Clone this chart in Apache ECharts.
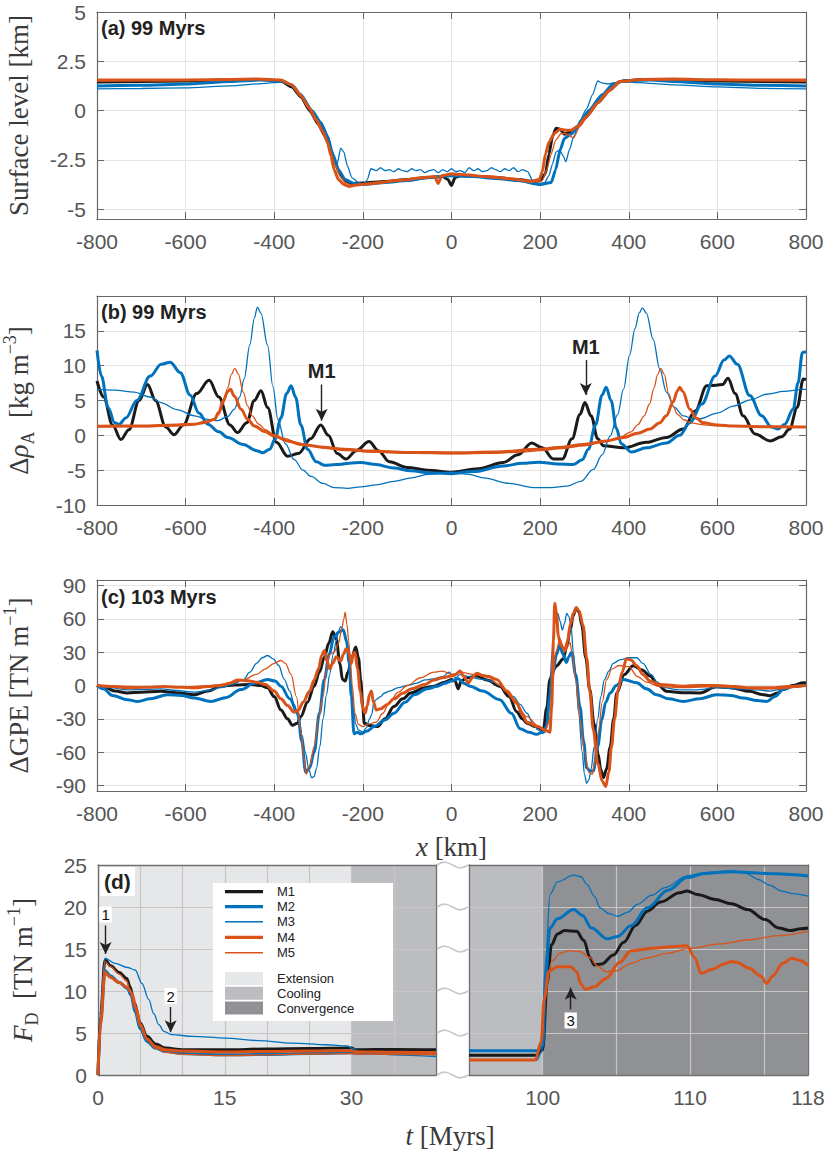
<!DOCTYPE html>
<html><head><meta charset="utf-8">
<script src="https://cdn.jsdelivr.net/npm/echarts@6/dist/echarts.min.js"></script>
<style>html,body{margin:0;padding:0;background:#fff}#c{width:825px;height:1154px}</style>
</head><body><div id="c"></div>
<script>
// ---------- DATA ----------
const xTicksKm = [-800,-600,-400,-200,0,200,400,600,800];
const surfTicks = [-5,-2.5,0,2.5,5];
const gpeTicks = [-90,-60,-30,0,30,60,90];
const fdLeftLabels = [0,15,30];
const fdRightLabels = [100,110,118];
const modelNames = ['M1','M2','M3','M4','M5'];
const phaseNames = ['Extension','Cooling','Convergence'];

// (a) surface level [km]
const surfM1 = [[-800,1.45],[-700,1.47],[-600,1.5],[-500,1.56],[-430,1.58],[-385,1.5],[-360,1.2],[-340,0.7],[-320,0.0],[-300,-0.7],[-285,-1.3],[-272,-2.0],[-262,-2.7],[-252,-3.2],[-240,-3.55],[-225,-3.7],[-200,-3.68],[-150,-3.6],[-100,-3.5],[-50,-3.4],[-20,-3.35],[-8,-3.5],[0,-3.8],[8,-3.4],[20,-3.3],[60,-3.35],[100,-3.4],[150,-3.5],[185,-3.6],[200,-3.55],[212,-3.2],[220,-2.2],[228,-1.3],[236,-0.9],[245,-0.95],[255,-1.2],[265,-1.1],[280,-0.9],[300,-0.4],[330,0.4],[360,1.1],[380,1.48],[430,1.58],[500,1.56],[600,1.5],[700,1.47],[800,1.45]];
const surfM2 = [[-800,1.25],[-700,1.28],[-600,1.35],[-500,1.48],[-430,1.55],[-385,1.52],[-360,1.3],[-340,0.8],[-315,0.0],[-295,-0.6],[-280,-1.3],[-268,-2.2],[-255,-3.0],[-240,-3.5],[-220,-3.7],[-200,-3.75],[-150,-3.65],[-100,-3.55],[-50,-3.4],[0,-3.3],[50,-3.35],[100,-3.45],[150,-3.55],[200,-3.75],[225,-3.65],[235,-3.0],[245,-2.0],[255,-1.4],[270,-1.2],[285,-0.8],[310,0.0],[340,0.8],[365,1.35],[390,1.52],[450,1.55],[500,1.48],[600,1.35],[700,1.28],[800,1.25]];
const surfM3 = [[-800,1.1],[-700,1.12],[-600,1.15],[-500,1.25],[-420,1.38],[-385,1.45],[-365,1.35],[-345,0.9],[-325,0.3],[-305,-0.3],[-290,-0.8],[-278,-1.3],[-268,-2.2],[-258,-2.7],[-250,-1.9],[-243,-2.1],[-235,-2.8],[-225,-3.4],[-210,-3.65],[-198,-3.75],[-190,-3.5],[-182,-2.95],[-170,-3.05],[-160,-2.9],[-150,-3.05],[-140,-3.0],[-130,-3.1],[-120,-2.95],[-110,-3.05],[-100,-3.1],[-90,-2.95],[-80,-3.05],[-70,-3.0],[-60,-3.15],[-50,-3.05],[-40,-3.0],[-30,-3.15],[-20,-3.0],[-10,-3.1],[0,-2.95],[10,-3.1],[20,-3.05],[30,-3.15],[40,-2.9],[50,-3.05],[60,-2.95],[70,-3.1],[80,-3.05],[90,-2.9],[100,-3.0],[110,-3.1],[120,-2.95],[130,-3.05],[140,-2.9],[150,-3.1],[160,-3.0],[172,-3.1],[182,-3.5],[195,-3.7],[210,-3.65],[220,-3.3],[228,-2.7],[236,-2.1],[244,-2.0],[252,-2.3],[258,-2.6],[266,-2.0],[276,-1.3],[290,-0.5],[305,0.1],[318,0.8],[330,1.5],[340,1.4],[352,1.35],[370,1.42],[400,1.45],[450,1.38],[500,1.3],[600,1.2],[700,1.13],[800,1.1]];
const surfM4 = [[-800,1.55],[-700,1.55],[-600,1.55],[-500,1.58],[-440,1.6],[-385,1.55],[-360,1.3],[-340,0.75],[-320,0.1],[-305,-0.5],[-290,-1.1],[-280,-1.6],[-272,-2.3],[-265,-3.0],[-255,-3.5],[-243,-3.75],[-232,-3.85],[-215,-3.78],[-180,-3.7],[-120,-3.55],[-60,-3.4],[-38,-3.35],[-30,-3.7],[-22,-3.3],[-10,-3.25],[0,-3.2],[30,-3.25],[80,-3.35],[130,-3.45],[180,-3.6],[198,-3.5],[205,-3.1],[212,-2.2],[220,-1.6],[232,-1.15],[245,-0.95],[258,-1.0],[270,-1.0],[285,-0.8],[305,-0.3],[330,0.4],[355,1.0],[380,1.48],[430,1.58],[500,1.6],[600,1.56],[700,1.55],[800,1.55]];
const surfM5 = [[-800,1.5],[-700,1.52],[-600,1.53],[-500,1.57],[-440,1.58],[-385,1.53],[-365,1.35],[-345,0.95],[-325,0.3],[-305,-0.4],[-288,-1.1],[-275,-1.9],[-262,-2.8],[-250,-3.4],[-238,-3.7],[-222,-3.8],[-200,-3.72],[-150,-3.62],[-100,-3.5],[-50,-3.38],[0,-3.25],[50,-3.3],[100,-3.42],[150,-3.52],[190,-3.62],[205,-3.55],[215,-3.0],[225,-2.2],[235,-1.5],[248,-1.15],[262,-1.2],[275,-1.4],[290,-0.8],[310,-0.2],[340,0.6],[365,1.2],[385,1.5],[430,1.57],[500,1.58],[600,1.54],[700,1.52],[800,1.5]];

// (b) delta rho_A [kg m^-3]
const rhoM1 = [[-800,7.8],[-785,5.5],[-765,1.5],[-746,-0.6],[-728,0.8],[-705,5.0],[-686,7.3],[-668,5.0],[-645,1.2],[-626,0.1],[-605,1.5],[-575,6.0],[-547,7.9],[-525,5.5],[-500,1.5],[-483,0.4],[-462,1.8],[-445,5.0],[-430,6.4],[-415,4.0],[-395,-1.0],[-370,-3.0],[-345,-2.6],[-318,-0.5],[-295,1.5],[-278,0.0],[-258,-2.6],[-238,-3.4],[-215,-2.2],[-186,-0.9],[-165,-2.2],[-140,-3.8],[-100,-4.6],[-54,-5.0],[0,-5.3],[60,-4.8],[117,-3.9],[150,-2.8],[181,-1.1],[205,-1.8],[230,-3.4],[250,-3.4],[272,-0.5],[290,3.0],[301,4.7],[315,2.8],[330,-0.5],[343,-1.5],[388,-1.8],[440,-1.0],[485,-0.3],[523,0.9],[550,3.5],[576,7.1],[598,7.2],[612,7.3],[624,8.2],[640,6.0],[658,2.8],[685,0.2],[719,-0.8],[745,-0.2],[763,0.9],[780,4.0],[794,8.1],[800,8.0]];
const rhoM2 = [[-800,12.2],[-790,8.5],[-775,4.0],[-760,1.8],[-750,1.6],[-735,2.5],[-710,5.0],[-680,8.5],[-655,10.2],[-635,10.5],[-612,9.0],[-590,5.8],[-570,3.2],[-550,1.6],[-525,0.5],[-505,-0.3],[-470,-1.3],[-440,-2.2],[-426,-2.5],[-410,-2.0],[-398,-0.5],[-385,2.5],[-372,6.0],[-362,7.1],[-352,5.5],[-340,1.5],[-325,-2.0],[-305,-3.8],[-287,-4.3],[-260,-4.2],[-230,-4.0],[-205,-3.9],[-170,-4.2],[-130,-4.7],[-92,-5.1],[-45,-5.4],[0,-5.5],[50,-5.2],[117,-4.4],[160,-4.0],[196,-3.85],[240,-4.1],[275,-4.2],[295,-3.5],[309,-2.0],[325,1.5],[340,5.8],[349,6.9],[360,5.0],[372,1.0],[383,-1.2],[406,-2.4],[440,-1.8],[485,-1.1],[515,0.0],[538,1.8],[565,4.5],[595,8.5],[615,10.8],[627,11.4],[645,10.2],[673,5.7],[700,2.8],[722,1.2],[737,0.9],[752,1.6],[771,3.75],[782,7.5],[792,11.9],[800,12.0]];
const rhoM3 = [[-800,6.6],[-760,6.5],[-716,6.2],[-680,5.5],[-656,4.7],[-620,3.7],[-580,2.8],[-550,2.3],[-528,2.1],[-505,2.7],[-490,3.75],[-478,5.5],[-468,8.1],[-455,13.0],[-445,16.8],[-438,18.4],[-430,17.5],[-415,12.9],[-403,7.0],[-392,2.3],[-375,-1.2],[-355,-3.5],[-335,-5.0],[-317,-5.9],[-290,-6.9],[-265,-7.5],[-235,-7.6],[-205,-7.4],[-170,-7.1],[-130,-6.6],[-90,-6.1],[-54,-5.6],[0,-5.3],[40,-5.6],[72,-6.1],[130,-6.9],[185,-7.5],[225,-7.5],[260,-7.3],[292,-6.6],[320,-4.9],[340,-2.8],[358,-0.1],[375,3.0],[388,6.6],[402,11.5],[414,15.3],[424,17.6],[431,18.3],[440,17.5],[455,13.8],[470,9.5],[485,6.2],[503,4.0],[523,2.8],[545,2.4],[561,2.4],[600,3.2],[636,4.2],[675,5.1],[711,5.9],[750,6.3],[794,6.6],[800,6.6]];
const rhoM4 = [[-800,1.3],[-700,1.35],[-620,1.5],[-580,1.6],[-555,1.9],[-535,2.3],[-525,3.3],[-515,5.0],[-505,6.3],[-499,6.6],[-490,5.6],[-475,3.75],[-460,2.3],[-445,1.35],[-420,0.5],[-400,-0.1],[-370,-0.8],[-340,-1.3],[-290,-1.7],[-242,-2.0],[-180,-2.25],[-100,-2.45],[0,-2.5],[100,-2.4],[196,-2.0],[250,-1.7],[297,-1.3],[350,-0.8],[388,-0.3],[420,0.3],[448,0.9],[470,1.8],[485,2.8],[500,4.8],[510,6.4],[515,6.9],[522,6.3],[538,3.75],[552,2.5],[568,1.8],[600,1.5],[636,1.35],[700,1.25],[800,1.2]];
const rhoM5 = [[-800,1.2],[-700,1.25],[-600,1.4],[-560,1.7],[-540,2.1],[-525,3.0],[-515,4.5],[-505,6.8],[-497,8.7],[-489,9.6],[-481,8.8],[-470,6.2],[-460,4.2],[-450,2.8],[-435,1.6],[-420,0.8],[-400,0.1],[-380,-0.4],[-350,-1.0],[-320,-1.5],[-280,-1.9],[-240,-2.2],[-160,-2.45],[-80,-2.6],[0,-2.65],[80,-2.6],[160,-2.4],[200,-2.2],[250,-1.9],[300,-1.5],[340,-1.0],[380,-0.3],[405,0.5],[420,1.5],[435,2.8],[447,4.5],[457,6.8],[465,8.7],[472,9.6],[480,8.8],[490,6.0],[500,4.2],[510,3.0],[525,2.2],[540,1.8],[570,1.5],[600,1.35],[700,1.25],[800,1.2]];

// (c) delta GPE [TN m^-1]
const gpeM1 = [[-800,0],[-780,-2],[-760,-5],[-731,-6.7],[-700,-6],[-656,-5.2],[-620,-6.5],[-580,-8.3],[-550,-5],[-520,-0.6],[-490,0.5],[-453,0.9],[-430,0],[-415,-2.1],[-400,-10],[-385,-22],[-370,-30],[-359,-35.8],[-348,-34],[-340,-28],[-325,-15],[-310,-0.6],[-298,12],[-287,25.4],[-277,38],[-268,48.3],[-260,42],[-252,20],[-246,5.5],[-240,4],[-234,11.6],[-225,25],[-216,34.6],[-210,25],[-205,5.5],[-200,-20],[-197,-34],[-185,-36],[-167,-37],[-150,-30],[-130,-19],[-110,-12],[-92,-6.7],[-60,-2],[-39,-0.6],[-15,3],[0,5.5],[8,4],[15,-3],[22,4],[35,7],[57,8.6],[80,5],[109,-0.6],[130,-10],[147,-23.6],[160,-30],[170,-34],[190,-37],[207,-40],[215,-20],[222,5.5],[230,14],[237,17.7],[252,23.9],[260,35],[267,48.3],[275,63],[281,69.8],[288,66],[294,54.5],[303,25],[312,-3.7],[322,-35],[331,-61.8],[337,-76],[343,-83],[350,-75],[358,-55.7],[366,-30],[373,-6.7],[390,10],[410,17.7],[430,14],[448,8.6],[465,1],[485,-5.2],[520,-6.5],[560,-6.7],[598,-1.2],[630,-2],[673,-5.2],[700,-8],[718,-9.2],[735,-7],[748,-3.7],[770,0],[794,2.4],[800,2.2]];
const gpeM2 = [[-800,0],[-785,-3],[-765,-9],[-731,-12.8],[-708,-14.4],[-680,-12],[-641,-8.3],[-610,-9],[-580,-11.3],[-543,-14.4],[-510,-11],[-475,-3.7],[-445,2],[-415,5.5],[-398,4],[-385,-0.6],[-365,-12],[-347,-25],[-338,-50],[-329,-78],[-320,-74],[-310,-60],[-298,-25],[-287,5.5],[-276,28],[-265,43.8],[-255,48],[-244,50],[-237,40],[-231,20.8],[-226,-10],[-220,-43.5],[-212,-42],[-205,-43.5],[-190,-41],[-175,-37],[-150,-31],[-130,-25],[-105,-15],[-84,-8.3],[-55,-3],[-32,-0.6],[-15,2],[0,4],[15,6],[28,2],[42,-0.6],[70,-5],[109,-12.8],[135,-25],[155,-38.9],[175,-42],[192,-44],[205,-42],[214,-37],[222,-10],[229,11.6],[237,28],[244,36],[252,28],[259,20.8],[265,26],[271,30],[280,10],[290,-19],[298,-50],[305,-74],[312,-77],[320,-77],[330,-55],[339,-31],[348,-15],[358,-6.7],[372,0],[388,5.5],[418,2.4],[440,-3],[463,-8.3],[490,-12],[523,-14.4],[560,-12],[598,-8.3],[630,-9],[658,-11.3],[690,-13.5],[711,-14.4],[730,-10],[748,-3.7],[770,-1],[794,0],[800,0]];
const gpeM3 = [[-800,0],[-770,-2],[-731,-4],[-690,-3.5],[-656,-3],[-620,-4.5],[-580,-6],[-550,-4.5],[-520,-2],[-495,1],[-470,5],[-455,12],[-440,20],[-427,25],[-415,27],[-402,24],[-390,18],[-378,6],[-365,-5],[-355,-17],[-345,-30],[-337,-45],[-330,-60],[-322,-75],[-316,-83],[-310,-82],[-305,-75],[-297,-55],[-290,-30],[-282,-8],[-275,10],[-267,28],[-260,40],[-255,49],[-250,53],[-245,50],[-240,45],[-235,35],[-230,20],[-226,0],[-222,-20],[-216,-35],[-210,-40],[-200,-42],[-192,-38],[-185,-30],[-180,-26],[-175,-15],[-168,-12],[-160,-10],[-152,-7],[-140,-5],[-120,-2],[-100,0],[-80,2],[-60,5],[-40,6],[-20,8],[-5,12],[0,10],[10,7],[20,10],[40,8],[60,6],[80,5],[95,3],[110,0],[125,-5],[140,-10],[155,-17],[170,-25],[185,-35],[195,-40],[205,-43],[212,-42],[218,-20],[222,0],[227,30],[232,55],[237,63],[240,65],[245,58],[250,50],[255,56],[260,65],[265,62],[270,52],[275,30],[280,10],[287,-25],[295,-60],[300,-80],[305,-88],[310,-85],[315,-75],[322,-55],[330,-30],[337,-10],[345,5],[355,13],[365,20],[380,23],[400,25],[418,25],[432,20],[450,10],[465,3],[480,-2],[515,-4],[550,-4],[600,-2],[650,-3],[690,-4],[720,-5],[750,-3],[780,-1],[800,0]];
const gpeM4 = [[-800,0],[-760,-1],[-731,-2],[-690,-1.5],[-650,-1],[-610,-1.5],[-580,-2],[-550,-1],[-520,0],[-500,2],[-483,5],[-465,4.5],[-440,3],[-420,1],[-400,-5],[-385,-12],[-370,-18],[-355,-24],[-345,-22],[-335,-15],[-320,-5],[-310,5],[-300,15],[-293,27],[-287,31.5],[-281,22],[-275,15],[-268,20],[-260,26],[-250,22],[-244,28],[-238,33],[-232,30],[-226,20],[-222,28],[-218,30],[-212,15],[-206,-5],[-200,-20],[-195,-25],[-190,-18],[-185,-8],[-181,-5],[-176,-15],[-170,-22],[-160,-21],[-145,-17],[-130,-12],[-110,-7],[-90,-3],[-60,1],[-40,5],[-20,7],[0,8.6],[10,10],[19,13],[28,8],[38,2.4],[47,7],[57,11],[70,9],[85,8],[102,5.5],[125,-5],[147,-16],[160,-26],[170,-33],[195,-37],[210,-40],[222,-42],[226,-20],[230,40],[233,74],[237,65],[241,45],[245,38],[250,35],[256,31.5],[262,40],[268,55],[275,65],[282,70],[288,67],[297,54],[305,25],[312,-5],[320,-40],[330,-70],[340,-86],[348,-91],[355,-78],[361,-55],[368,-30],[376,-4],[385,12],[395,24],[405,23],[418,17.7],[432,10],[448,4],[470,1],[523,-0.6],[560,0],[598,0],[640,-1],[673,-2],[720,-2],[760,-1],[800,0]];
const gpeM5 = [[-800,0],[-700,-1],[-600,-1],[-540,0],[-500,2],[-470,5],[-440,10],[-420,15],[-400,20],[-385,22.5],[-375,20],[-362,10],[-350,-10],[-340,-40],[-333,-65],[-328,-80],[-320,-72],[-310,-55],[-300,-30],[-290,-10],[-282,15],[-275,28],[-265,30],[-255,38],[-248,50],[-243,60],[-240,66],[-236,55],[-232,40],[-228,20],[-224,0],[-218,-25],[-210,-35],[-200,-37],[-190,-35],[-170,-33],[-155,-25],[-140,-15],[-120,-6],[-100,0],[-70,7],[-40,12],[-20,13],[0,10],[20,12],[50,10],[80,8],[110,0],[140,-12],[170,-28],[200,-38],[212,-40],[222,-30],[228,0],[235,30],[245,42],[255,30],[262,35],[267,39],[272,30],[280,5],[290,-30],[300,-60],[310,-78],[318,-80],[325,-65],[332,-40],[340,-15],[350,5],[362,15],[378,18],[400,17],[420,8],[440,3],[470,-1],[520,-2],[600,-1],[680,-3],[730,-3],[800,0]];

// (d) F_D [TN m^-1], left part 0-40 Myrs, right part 95-118 Myrs
const fdLM1 = [[0,0],[0.3,7],[0.83,13.7],[1.5,13.0],[2.5,12.2],[3.4,11.5],[3.8,10.5],[4.3,8.5],[5,6.2],[5.8,4.6],[6.8,3.7],[8,3.2],[10,3.0],[15,3.0],[20,3.1],[25,3.15],[30,3.2],[30.5,3.0],[35,3.05],[40,3.0]];
const fdLM2 = [[0,0],[0.3,6.5],[0.83,12.4],[1.5,11.8],[2.5,11.0],[3.5,10.3],[3.9,9.5],[4.4,7.5],[5,5.5],[5.8,4.0],[6.8,3.2],[8,2.8],[10,2.55],[15,2.4],[20,2.45],[25,2.55],[30,2.65],[30.5,2.6],[35,2.6],[40,2.6]];
const fdLM3 = [[0,0],[0.3,7],[0.83,13.9],[2,13.3],[3.5,12.8],[4.4,12.5],[5.2,10.9],[6,9.0],[6.6,7.3],[7.2,6.0],[7.8,5.2],[8.7,4.8],[11.2,4.6],[15.1,4.4],[19,4.1],[23,3.8],[27,3.6],[29.5,3.45],[30,3.2],[31,2.8],[34.8,2.4],[40,2.2]];
const fdLM4 = [[0,0],[0.3,6],[0.83,12.2],[1.5,11.6],[2.5,11.0],[3.5,10.4],[4,9.8],[4.5,8.0],[5,6.0],[5.8,4.3],[6.8,3.4],[8,3.0],[10,2.85],[15,2.75],[20,2.8],[25,2.85],[30,2.9],[30.5,2.75],[35,2.7],[40,2.65]];
const fdLM5 = [[0,0],[0.3,7],[0.83,13.5],[1.5,12.9],[2.5,12.0],[3.4,11.2],[3.8,10.0],[4.3,8.0],[5,5.8],[5.8,4.2],[6.8,3.2],[8,2.7],[10,2.45],[15,2.3],[20,2.4],[25,2.5],[30,2.55],[30.5,2.5],[35,2.45],[40,2.4]];
const fdRM1 = [[95,2.35],[99.6,2.35],[100.0,3],[100.3,11],[100.6,15.5],[101,16.8],[101.5,17.2],[102.3,17.1],[102.8,16.0],[103.2,14.0],[103.5,13.1],[104,13.2],[104.8,14.3],[105.5,15.8],[106.3,17.8],[107.1,19.5],[108,20.6],[109.3,21.7],[109.8,21.9],[110.5,21.5],[111.7,20.9],[112.8,20.4],[113.9,19.7],[115.1,18.5],[116,17.5],[116.8,17.2],[117.5,17.4],[118,17.5]];
const fdRM2 = [[95,2.9],[99.6,2.9],[100.0,3.5],[100.2,12],[100.5,17.5],[101,18.6],[102.1,19.7],[102.7,19.0],[103.3,17.5],[104.4,16.2],[105.1,16.5],[106,17.8],[107.1,19.9],[108.5,22],[109.8,23.5],[111,24.0],[112.8,24.2],[115.1,24.0],[116.5,23.9],[118,23.7]];
const fdRM3 = [[95,1.75],[99.6,1.75],[100,3],[100.2,14],[100.5,21.5],[101,23],[102.1,23.8],[102.6,23.6],[103,22.7],[103.5,21.3],[103.9,19.9],[104.5,19.2],[105.1,18.9],[105.8,19.4],[106.4,20.3],[107.4,21.4],[108.3,22.3],[109.8,23.7],[111,24.1],[112.8,24.3],[113.8,24],[114.6,23.3],[115.4,22.6],[116.2,21.9],[117,21.6],[118,21.3]];
const fdRM4 = [[95,1.8],[99.5,1.8],[99.9,4],[100.1,9],[100.4,12.3],[101,12.9],[101.9,12.9],[102.3,12.3],[102.6,10.8],[102.9,10.2],[103.5,10.5],[104.3,11.5],[105.2,13.4],[106,14.8],[107.5,15.1],[109,15.3],[109.8,15.4],[110.3,14.0],[110.75,12.1],[111.5,12.6],[112.3,13.2],[112.8,13.5],[113.2,13.4],[114,12.7],[114.8,11.8],[115.2,10.9],[115.6,11.8],[116.3,13.3],[116.9,13.9],[117.5,13.6],[118,13.0]];
const fdRM5 = [[95,1.8],[99.5,1.8],[99.9,4],[100.2,10],[100.6,13.5],[101.2,14.5],[101.8,14.8],[102.5,14.7],[103.2,14.0],[103.7,13.0],[104.3,12.3],[105,12.4],[106,13.3],[107,13.9],[108.5,14.5],[110,15.1],[112,15.6],[114,16.1],[116,16.6],[118,17.1]];

// phase intervals (Myrs)
const extensionSpan = [0,30];
const coolingSpanL = [30,40];
const coolingSpanR = [95,100];
const convergenceSpan = [100,118];
// annotation arrows: [x, yStart, yEnd, label]
const arrowsB = [[-293,7.3,2.1,'M1'],[303,10.8,5.8,'M1']];
const arrowsDL = [[0.9,17.8,14.4,'1'],[8.6,8.1,5.1,'2']];
const arrowsDR = [[101.9,7.8,10.4,'3']];

// ---------- STYLE ----------
const SANS = 'Liberation Sans, Arial, Helvetica, sans-serif';
const SERIF = 'Liberation Serif, Times New Roman, serif';
const AX = '#666';
const tickFont = {fontFamily: SANS, fontSize: 21, color: '#555'};
const sty = {
  M1: {color: '#1a1a1a', width: 3},
  M2: {color: '#0072BD', width: 3},
  M3: {color: '#0072BD', width: 1.3},
  M4: {color: '#D95319', width: 3},
  M5: {color: '#D95319', width: 1.3}
};
const colExt = '#e6e7e9', colCool = '#bcbdc1', colConv = '#909195';

function nameStyle() {
  const c = '#3a3a3a';
  return {fontFamily: SERIF, fontSize: 27, fontWeight: 'normal', color: c, lineHeight: 36,
    rich: {
      i: {fontFamily: SERIF, fontSize: 27, fontWeight: 'normal', fontStyle: 'italic', color: c, lineHeight: 36},
      sub: {fontFamily: SERIF, fontSize: 18, fontWeight: 'normal', color: c, verticalAlign: 'bottom', lineHeight: 18},
      sup: {fontFamily: SERIF, fontSize: 18, fontWeight: 'normal', color: c, verticalAlign: 'top', lineHeight: 18}
    }};
}

const grids = [
  {left: 97, top: 12, width: 709, height: 207},
  {left: 97, top: 296, width: 709, height: 209},
  {left: 97, top: 580, width: 709, height: 211},
  {left: 98, top: 865, width: 338, height: 210},
  {left: 469, top: 865, width: 339, height: 210}
].map(g => Object.assign({outerBoundsMode: 'none', containLabel: false}, g));

const axLine = {show: true, onZero: false, lineStyle: {color: AX, width: 1.2}};
const split = {show: true, lineStyle: {color: '#e4e4e4', width: 1}};

function xPair(gi, extra) {
  const base = {gridIndex: gi, type: 'value', min: xTicksKm[0], max: xTicksKm[xTicksKm.length - 1], interval: 200};
  return [
    Object.assign({}, base, {position: 'bottom', axisLine: axLine,
      axisTick: {show: true, inside: true, length: 7, lineStyle: {color: AX}},
      axisLabel: Object.assign({margin: 12, formatter: v => String(v)}, tickFont),
      splitLine: split}, extra || {}),
    Object.assign({}, base, {position: 'top', axisLine: axLine,
      axisTick: {show: true, inside: true, length: 7, lineStyle: {color: AX}},
      axisLabel: {show: false}, splitLine: {show: false}})
  ];
}
function yPair(gi, min, max, ticks, interval, labelFmt, name) {
  const base = {gridIndex: gi, type: 'value', min: min, max: max};
  if (interval) base.interval = interval;
  const tk = {show: true, inside: true, length: 7, lineStyle: {color: AX}};
  if (ticks) tk.customValues = ticks;
  const lab = Object.assign({margin: 11, formatter: labelFmt}, tickFont);
  if (ticks) lab.customValues = ticks;
  return [
    Object.assign({}, base, {position: 'left', axisLine: axLine, axisTick: tk, axisLabel: lab, splitLine: split,
      name: name, nameLocation: 'middle', nameGap: 60, nameTextStyle: nameStyle()}),
    Object.assign({}, base, {position: 'right', axisLine: axLine, axisTick: tk, axisLabel: {show: false}, splitLine: {show: false}})
  ];
}

const splitD = {show: true, lineStyle: {color: '#c6c6c6', width: 1.2}};
const axLineD = {show: true, onZero: false, lineStyle: {color: '#707070', width: 1.3}};

const xAxes = [].concat(
  xPair(0), xPair(1),
  xPair(2, {name: '{i|x} [km]', nameLocation: 'middle', nameGap: 38, nameTextStyle: nameStyle()}),
  [
    {gridIndex: 3, type: 'value', min: 0, max: 40, interval: 5, position: 'bottom', z: 2, axisLine: axLineD,
     axisTick: {show: false}, splitLine: splitD,
     axisLabel: Object.assign({margin: 12, formatter: v => fdLeftLabels.indexOf(v) >= 0 ? String(v) : ''}, tickFont)},
    {gridIndex: 3, type: 'value', min: 0, max: 40, position: 'top', z: 2, axisLine: axLineD, axisTick: {show: false}, axisLabel: {show: false}, splitLine: {show: false}},
    {gridIndex: 4, type: 'value', min: 95, max: 118, interval: 5, position: 'bottom', z: 2, axisLine: axLineD,
     axisTick: {show: false}, splitLine: splitD,
     axisLabel: Object.assign({margin: 12, showMinLabel: true, showMaxLabel: true, formatter: v => fdRightLabels.indexOf(v) >= 0 ? String(v) : ''}, tickFont)},
    {gridIndex: 4, type: 'value', min: 95, max: 118, position: 'top', z: 2, axisLine: axLineD, axisTick: {show: false}, axisLabel: {show: false}, splitLine: {show: false}}
  ]
);

const yAxes = [].concat(
  yPair(0, -5.5, 5, surfTicks, null, v => String(v), 'Surface level [km]'),
  yPair(1, -10, 20, null, 5, v => v === 20 ? '' : String(v), 'Δ{i|ρ}{sub|A}  [kg m{sup|−3}]'),
  yPair(2, -95, 95, gpeTicks, null, v => String(v), 'ΔGPE [TN m{sup|−1}]'),
  [
    {gridIndex: 3, type: 'value', min: 0, max: 25, interval: 5, position: 'left', z: 2, axisLine: axLineD,
     axisTick: {show: false}, splitLine: splitD,
     axisLabel: Object.assign({margin: 11, formatter: v => String(v)}, tickFont),
     name: '{i|F}{sub|D}  [TN m{sup|−1}]', nameLocation: 'middle', nameGap: 57, nameTextStyle: nameStyle()},
    {gridIndex: 3, type: 'value', min: 0, max: 25, interval: 5, position: 'right', z: 2, axisLine: axLineD, axisTick: {show: false}, axisLabel: {show: false}, splitLine: {show: false}},
    {gridIndex: 4, type: 'value', min: 0, max: 25, interval: 5, position: 'left', z: 2, axisLine: axLineD, axisTick: {show: false}, axisLabel: {show: false}, splitLine: splitD},
    {gridIndex: 4, type: 'value', min: 0, max: 25, interval: 5, position: 'right', z: 2, axisLine: axLineD, axisTick: {show: false}, axisLabel: {show: false}, splitLine: {show: false}}
  ]
);

function arrowMarks(list, labelStyle) {
  return {
    silent: true, animation: false, emphasis: {disabled: true},
    symbol: ['none', 'arrow'], symbolSize: [9, 12],
    lineStyle: {color: '#222', width: 1.4, type: 'solid'},
    label: Object.assign({show: true, position: 'start', distance: 3, formatter: p => p.name}, labelStyle),
    data: list.map(a => [{name: a[3], coord: [a[0], a[1]]}, {name: a[3], coord: [a[0], a[2]]}])
  };
}

function line(name, data, ai, extra) {
  return Object.assign({
    type: 'line', name: name, data: data, xAxisIndex: ai, yAxisIndex: ai,
    showSymbol: false, symbol: 'none', smooth: 0.35, smoothMonotone: 'x',
    lineStyle: {color: sty[name].color, width: sty[name].width},
    itemStyle: {color: sty[name].color},
    z: 3, silent: true, animation: false
  }, extra || {});
}

const panelData = [
  [surfM1, surfM2, surfM3, surfM4, surfM5],
  [rhoM1, rhoM2, rhoM3, rhoM4, rhoM5],
  [gpeM1, gpeM2, gpeM3, gpeM4, gpeM5],
  [fdLM1, fdLM2, fdLM3, fdLM4, fdLM5],
  [fdRM1, fdRM2, fdRM3, fdRM4, fdRM5]
];

const series = [];
// phase shading (also legend entries)
series.push({type: 'bar', name: phaseNames[0], data: [], xAxisIndex: 6, yAxisIndex: 6, itemStyle: {color: colExt}, silent: true, animation: false,
  markArea: {silent: true, animation: false, itemStyle: {color: colExt}, data: [[{xAxis: extensionSpan[0]}, {xAxis: extensionSpan[1]}]]}});
series.push({type: 'bar', name: phaseNames[1], data: [], xAxisIndex: 6, yAxisIndex: 6, itemStyle: {color: colCool}, silent: true, animation: false,
  markArea: {silent: true, animation: false, itemStyle: {color: colCool}, data: [[{xAxis: coolingSpanL[0]}, {xAxis: coolingSpanL[1]}]]}});
series.push({type: 'bar', name: 'coolingR', data: [], xAxisIndex: 8, yAxisIndex: 8, itemStyle: {color: colCool}, silent: true, animation: false,
  markArea: {silent: true, animation: false, itemStyle: {color: colCool}, data: [[{xAxis: coolingSpanR[0]}, {xAxis: coolingSpanR[1]}]]}});
series.push({type: 'bar', name: phaseNames[2], data: [], xAxisIndex: 8, yAxisIndex: 8, itemStyle: {color: colConv}, silent: true, animation: false,
  markArea: {silent: true, animation: false, itemStyle: {color: colConv}, data: [[{xAxis: convergenceSpan[0]}, {xAxis: convergenceSpan[1]}]]}});

panelData.forEach((arrs, p) => {
  const ai = p * 2;
  arrs.forEach((d, k) => {
    const nm = modelNames[k];
    let extra = {};
    if (p === 0) extra.smooth = 0.2;
    if (k === 0 && p === 1) extra.markLine = arrowMarks(arrowsB, {fontFamily: SANS, fontWeight: 'bold', fontSize: 20, color: '#222'});
    if (k === 0 && p === 3) extra.markLine = arrowMarks(arrowsDL, {fontFamily: SANS, fontSize: 15, color: '#111', backgroundColor: '#fff', padding: [1, 2, 0, 2]});
    if (k === 0 && p === 4) extra.markLine = arrowMarks(arrowsDR, {fontFamily: SANS, fontSize: 15, color: '#111', backgroundColor: '#fff', padding: [1, 2, 0, 2]});
    series.push(line(nm, d, ai, extra));
  });
});

// legends: one per model so each icon has its own line thickness
const legendRowCenters = [891.7, 906.7, 921.7, 937.3, 952.7];
const legendText = {fontFamily: SANS, fontSize: 13, color: '#222', lineHeight: 14, padding: [0, 0, 0, 9]};
const legends = modelNames.map((nm, i) => ({
  data: [nm], orient: 'vertical', left: 225, top: legendRowCenters[i] - 7, icon: 'rect',
  itemWidth: 38, itemHeight: sty[nm].width > 2 ? 3.2 : 1.6, selectedMode: false, z: 20, padding: 0,
  textStyle: legendText
}));
legends.push({data: phaseNames, orient: 'vertical', left: 225, top: 972, icon: 'rect', itemWidth: 38, itemHeight: 13, itemGap: 1.8,
  selectedMode: false, z: 20, padding: 0, textStyle: {fontFamily: SANS, fontSize: 13, color: '#222', padding: [0, 0, 0, 9]}});

const titleStyle = {fontFamily: SANS, fontWeight: 'bold', fontSize: 20, color: '#222'};
const option = {
  backgroundColor: '#fff',
  animation: false,
  grid: grids,
  xAxis: xAxes,
  yAxis: yAxes,
  title: [
    {text: '(a) 99 Myrs', left: 101, top: 18, padding: 0, textStyle: titleStyle},
    {text: '(b) 99 Myrs', left: 101, top: 302, padding: 0, textStyle: titleStyle},
    {text: '(c) 103 Myrs', left: 101, top: 587, padding: 0, textStyle: titleStyle},
    {text: '(d)', left: 100, top: 867, padding: [4, 4, 4, 4], backgroundColor: '#fff', textStyle: Object.assign({}, titleStyle, {fontSize: 21}), z: 12},
    {text: '{i|t} [Myrs]', left: 450, top: 1118, textAlign: 'center', padding: 0, textStyle: nameStyle()}
  ],
  legend: legends,
  graphic: [
    {type: 'rect', id: 'legbox', left: 213, top: 883, z: 15, shape: {width: 180, height: 138}, style: {fill: '#fff'}, silent: true}
  ],
  series: series
};

const chart = echarts.init(document.getElementById('c'), null, {renderer: 'svg'});
chart.setOption(option);

// broken-axis squiggles between the two halves of (d)
const fdGridValues = [0,5,10,15,20,25];
const xl = chart.convertToPixel({gridIndex: 3}, [40, 0])[0];
const xr = chart.convertToPixel({gridIndex: 4}, [95, 0])[0];
const sq = fdGridValues.map((v, i) => {
  const y = chart.convertToPixel({gridIndex: 3}, [40, v])[1];
  const w = xr - xl;
  return {type: 'bezierCurve', id: 'sq' + i, z: 15, silent: true,
    shape: {x1: xl + 1, y1: y, x2: xr - 1, y2: y, cpx1: xl + w * 0.45, cpy1: y - 10, cpx2: xr - w * 0.45, cpy2: y + 10},
    style: {stroke: '#c8c8c8', lineWidth: 1.6, fill: 'none'}};
});
chart.setOption({graphic: sq});
</script></body></html>
